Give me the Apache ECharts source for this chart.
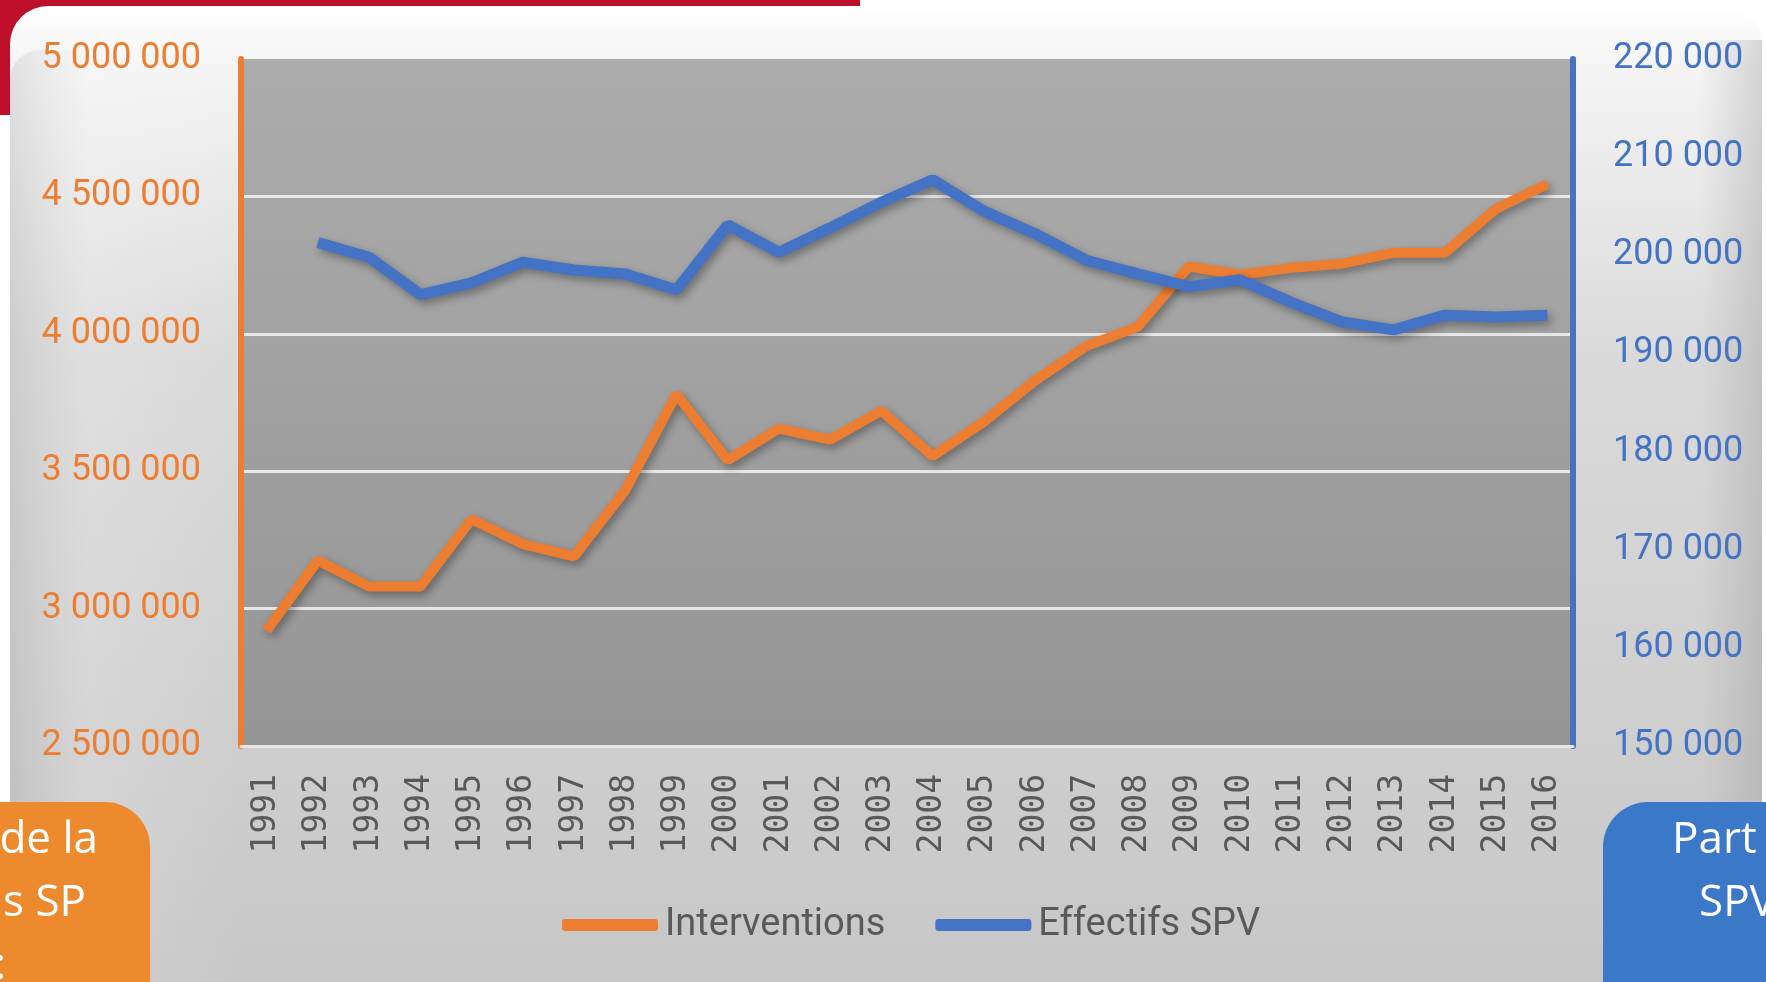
<!DOCTYPE html>
<html>
<head>
<meta charset="utf-8">
<script src="https://cdn.jsdelivr.net/npm/echarts@6/dist/echarts.min.js"></script>
<style>
  html, body { margin: 0; padding: 0; background: #ffffff; }
  #chart { width: 1766px; height: 982px; }
</style>
</head>
<body>
<div id="chart"></div>
<script>
// années
const years = ['1991', '1992', '1993', '1994', '1995', '1996', '1997', '1998', '1999', '2000',
  '2001', '2002', '2003', '2004', '2005', '2006', '2007', '2008', '2009', '2010',
  '2011', '2012', '2013', '2014', '2015', '2016'];

// nombre d'interventions (axe gauche)
const interventions = [2920000, 3175000, 3080000, 3080000, 3325000, 3235000, 3190000, 3430000, 3780000, 3540000,
  3655000, 3615000, 3720000, 3555000, 3680000, 3830000, 3955000, 4025000, 4245000, 4215000,
  4240000, 4255000, 4295000, 4295000, 4455000, 4545000];

// effectifs SPV (axe droit), pas de valeur en 1991
const effectifsSPV = [null, 201300, 199800, 196000, 197200, 199300, 198500, 198100, 196500, 203100,
  200300, 202800, 205400, 207700, 204500, 202200, 199500, 198100, 196800, 197500,
  195200, 193200, 192400, 193900, 193700, 193900];

const orange = '#ed7d31';
const blue = '#4472c4';
const labelFont = 'Roboto, "Open Sans", sans-serif';

// formatage "5 000 000"
function fmt(v) {
  return String(v).replace(/\B(?=(\d{3})+(?!\d))/g, ' ');
}

const chart = echarts.init(document.getElementById('chart'));

const option = {
  backgroundColor: '#ffffff',
  animation: false,
  graphic: [
    // bandeau rouge de la diapo
    {
      type: 'rect', z: -10,
      shape: { x: 0, y: 0, width: 860, height: 115, r: [0, 0, 60, 0] },
      style: { fill: '#be0f2a' }
    },
    // panneau du graphique
    {
      type: 'rect', z: -9,
      shape: { x: 10, y: 6, width: 1752, height: 1000, r: 38 },
      style: {
        fill: new echarts.graphic.LinearGradient(0, 0, 0, 1, [
          { offset: 0, color: '#ffffff' },
          { offset: 0.06, color: '#f4f4f4' },
          { offset: 0.35, color: '#dadada' },
          { offset: 1, color: '#c6c6c6' }
        ])
      }
    },
    // ombrage gauche du panneau
    {
      type: 'rect', z: -8,
      shape: { x: 10, y: 50, width: 232, height: 956, r: [30, 0, 0, 0] },
      style: {
        fill: new echarts.graphic.LinearGradient(0, 0, 1, 0, [
          { offset: 0, color: 'rgba(160,160,160,0.25)' },
          { offset: 0.35, color: 'rgba(255,255,255,0.15)' },
          { offset: 1, color: 'rgba(255,255,255,0)' }
        ])
      }
    },
    // ombrage droit du panneau
    {
      type: 'rect', z: -8,
      shape: { x: 1700, y: 40, width: 62, height: 966 },
      style: {
        fill: new echarts.graphic.LinearGradient(0, 0, 1, 0, [
          { offset: 0, color: 'rgba(150,150,150,0)' },
          { offset: 1, color: 'rgba(150,150,150,0.35)' }
        ])
      }
    },
    // encadré orange en bas à gauche
    {
      type: 'rect', z: 20,
      shape: { x: -40, y: 802, width: 190, height: 200, r: [0, 45, 0, 0] },
      style: { fill: '#ee8a2e' }
    },
    { type: 'text', z: 21, style: { text: 'de la', x: 98, y: 840, align: 'right', verticalAlign: 'middle', fill: '#ffffff', font: '44px "Open Sans", sans-serif' } },
    { type: 'text', z: 21, style: { text: 's SP', x: 86, y: 903, align: 'right', verticalAlign: 'middle', fill: '#ffffff', font: '44px "Open Sans", sans-serif' } },
    { type: 'text', z: 21, style: { text: ':', x: 6, y: 966, align: 'right', verticalAlign: 'middle', fill: '#ffffff', font: '44px "Open Sans", sans-serif' } },
    // encadré bleu en bas à droite
    {
      type: 'rect', z: 20,
      shape: { x: 1603, y: 802, width: 220, height: 200, r: [45, 0, 0, 0] },
      style: { fill: '#3b78c8' }
    },
    { type: 'text', z: 21, style: { text: 'Part', x: 1672, y: 840, align: 'left', verticalAlign: 'middle', fill: '#ffffff', font: '44px "Open Sans", sans-serif' } },
    { type: 'text', z: 21, style: { text: 'SPV', x: 1699, y: 903, align: 'left', verticalAlign: 'middle', fill: '#ffffff', font: '44px "Open Sans", sans-serif' } }
  ],
  grid: {
    left: 241,
    right: 193,
    top: 59,
    bottom: 236,
    show: true,
    borderWidth: 0,
    backgroundColor: new echarts.graphic.LinearGradient(0, 0, 0, 1, [
      { offset: 0, color: '#acacac' },
      { offset: 1, color: '#959595' }
    ])
  },
  legend: {
    bottom: 33,
    left: 557,
    itemWidth: 96,
    itemHeight: 12,
    itemGap: 50,
    icon: 'roundRect',
    textStyle: {
      color: '#595959',
      fontSize: 38,
      fontFamily: labelFont,
      padding: [0, 0, 0, 2]
    },
    data: ['Interventions', 'Effectifs SPV']
  },
  xAxis: {
    type: 'category',
    data: years,
    boundaryGap: true,
    axisLine: { lineStyle: { color: '#e6e6e6', width: 3 } },
    axisTick: { show: false },
    axisLabel: {
      rotate: 90,
      margin: 28,
      color: '#595959',
      fontSize: 33,
      fontFamily: '"DejaVu Sans Mono", monospace',
      interval: 0
    }
  },
  yAxis: [
    {
      type: 'value',
      min: 2500000,
      max: 5000000,
      interval: 500000,
      position: 'left',
      axisLine: { show: true, lineStyle: { color: orange, width: 6 } },
      axisTick: { show: false },
      axisLabel: {
        margin: 40,
        color: orange,
        fontSize: 36,
        fontFamily: labelFont,
        formatter: fmt
      },
      splitLine: {
        show: true,
        lineStyle: {
          color: ['#e8e8e8', '#e8e8e8', '#e8e8e8', '#e8e8e8', '#e8e8e8', 'rgba(0,0,0,0)'],
          width: 3
        }
      }
    },
    {
      type: 'value',
      min: 150000,
      max: 220000,
      interval: 10000,
      position: 'right',
      axisLine: { show: true, lineStyle: { color: blue, width: 6 } },
      axisTick: { show: false },
      axisLabel: {
        margin: 40,
        color: blue,
        fontSize: 36,
        fontFamily: labelFont,
        formatter: fmt
      },
      splitLine: { show: false }
    }
  ],
  series: [
    {
      name: 'Interventions',
      type: 'line',
      yAxisIndex: 0,
      data: interventions,
      showSymbol: false,
      symbol: 'none',
      itemStyle: { color: orange },
      lineStyle: {
        color: orange,
        width: 10,
        shadowColor: 'rgba(0,0,0,0.35)',
        shadowBlur: 8,
        shadowOffsetX: 3,
        shadowOffsetY: 4
      },
      z: 3
    },
    {
      name: 'Effectifs SPV',
      type: 'line',
      yAxisIndex: 1,
      data: effectifsSPV,
      showSymbol: false,
      symbol: 'none',
      itemStyle: { color: blue },
      lineStyle: {
        color: blue,
        width: 11,
        shadowColor: 'rgba(0,0,0,0.35)',
        shadowBlur: 8,
        shadowOffsetX: 3,
        shadowOffsetY: 4
      },
      z: 4
    }
  ]
};

chart.setOption(option);
</script>
</body>
</html>
